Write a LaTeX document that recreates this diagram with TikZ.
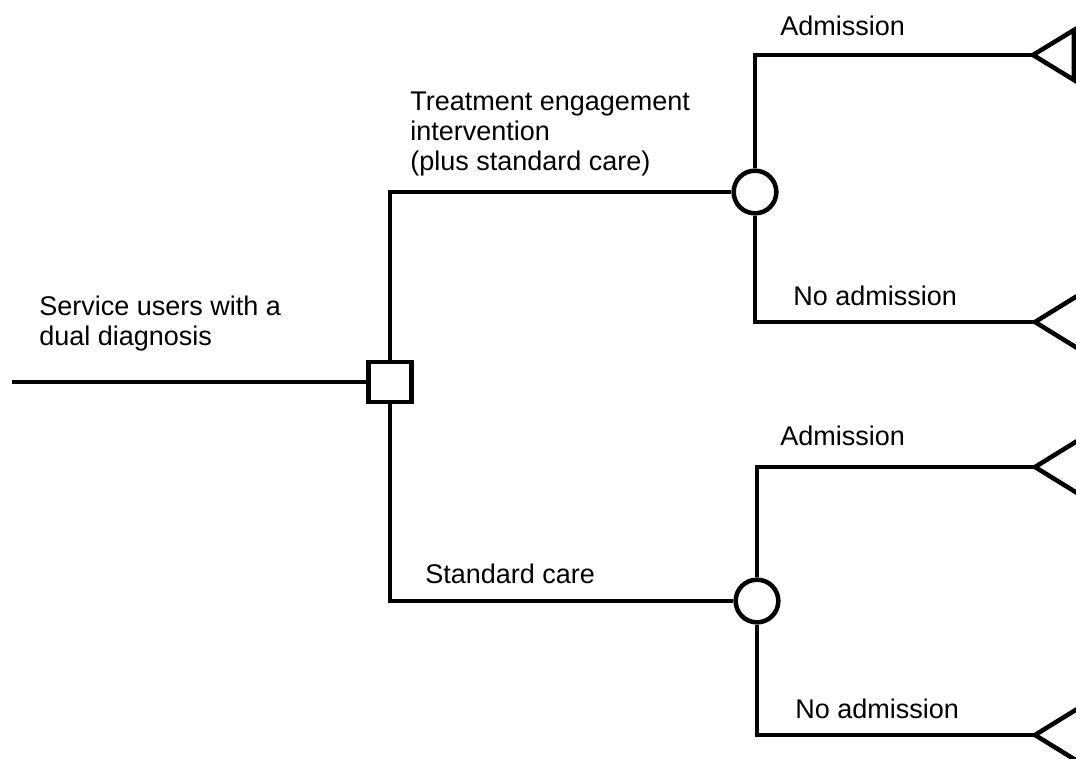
\documentclass[tikz,border=0pt]{standalone}
\usepackage{fontspec}
\setmainfont{Liberation Sans}
\usetikzlibrary{calc}
\begin{document}
\begin{tikzpicture}[x=0.75pt,y=-0.75pt,
  line width=3.4pt,
  lbl/.style={anchor=base west,inner sep=0pt,font=\fontsize{20.25pt}{22.5pt}\selectfont,align=left},
  decbox/.style={draw,fill=white,rectangle,minimum width=32.5pt,minimum height=30pt,inner sep=0pt},
  chance/.style={draw,fill=white,circle,minimum size=32pt,inner sep=0pt}]
\useasboundingbox (0,0) rectangle (1076,758);
\clip (0,0) rectangle (1076,758);
% nodes
\coordinate (root) at (12,382);
\node[decbox] (dec) at (390,382) {};
\node[chance] (c1) at (755,192) {};
\node[chance] (c2) at (757,601) {};
\coordinate (t1) at (1033,55);
\coordinate (t2) at (1035,322);
\coordinate (t3) at (1035,467);
\coordinate (t4) at (1035,735);
% connectors
\draw (root) -- (dec.west);
\draw (dec.north) |- (c1.west);
\draw (dec.south) |- (c2.west);
\draw (c1.north) |- (t1);
\draw (c1.south) |- (t2);
\draw (c2.north) |- (t3);
\draw (c2.south) |- (t4);
% terminal triangles
\draw[line join=miter] (t1) -- ++(41,-25) -- ++(0,50) -- cycle;
\draw[line join=miter] ($(t2)+(47,-29)$) -- (t2) -- ++(47,29);
\draw[line join=miter] ($(t3)+(47,-29)$) -- (t3) -- ++(47,29);
\draw[line join=miter] ($(t4)+(47,-29)$) -- (t4) -- ++(47,29);
% labels
\node[lbl] (l0) at (37,345) {Service users with a\\dual diagnosis};
\node[lbl] (l1) at (408,170) {Treatment engagement\\intervention\\(plus standard care)};
\node[lbl] (l2) at (423,583) {Standard care};
\node[lbl] (l3) at (778,35) {Admission};
\node[lbl] (l4) at (791,305) {No admission};
\node[lbl] (l5) at (778,445) {Admission};
\node[lbl] (l6) at (793,718) {No admission};
\end{tikzpicture}
\end{document}
